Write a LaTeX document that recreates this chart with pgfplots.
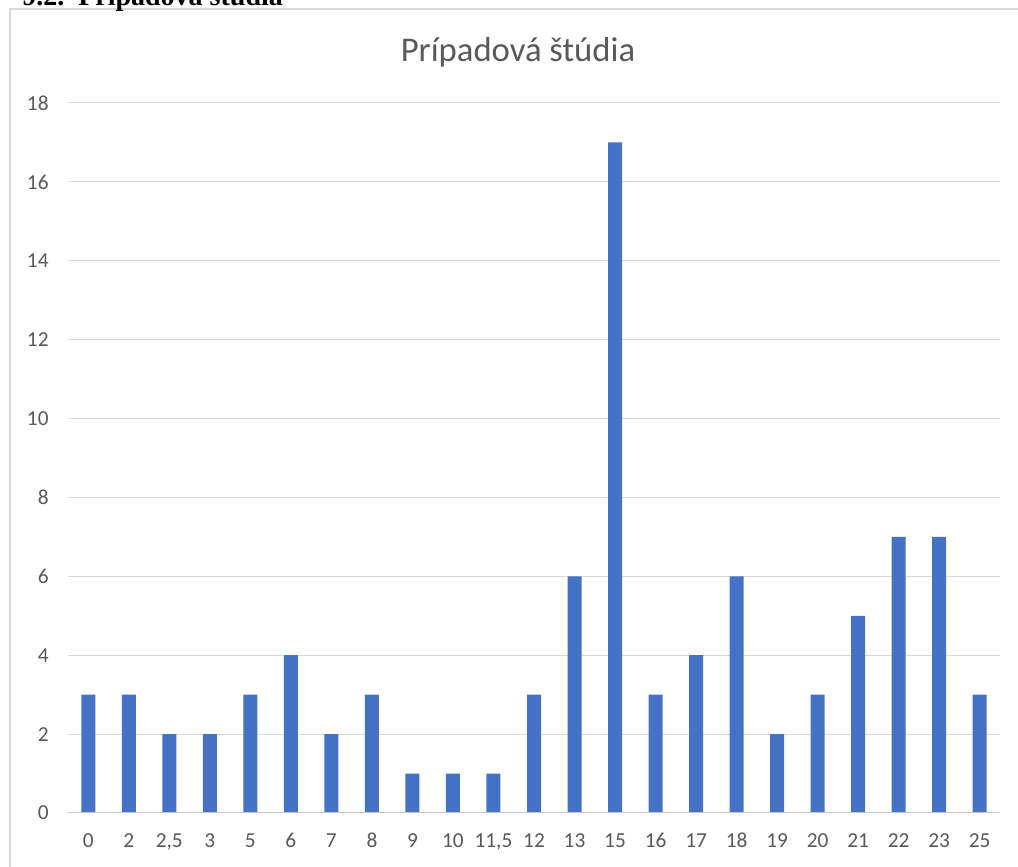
\documentclass[border=0pt]{standalone}
\usepackage{pgfplots}
\pgfplotsset{compat=1.18}
\usepackage{fontspec}
\setmainfont{Carlito}
\newfontfamily\headfont{Liberation Serif}
\definecolor{barblue}{HTML}{4472C4}
\definecolor{txtgray}{HTML}{595959}
\definecolor{gridgray}{HTML}{D9D9D9}
\begin{document}
\begin{tikzpicture}[x=0.75pt,y=0.75pt]
\useasboundingbox (0,0) rectangle (1018,867);
% chart frame
\draw[gridgray,line width=1.5pt] (9.5,-20) -- (9.5,857.5) -- (1040,857.5);
% cut off heading above the chart
\node[anchor=base west,inner sep=0pt,font=\headfont\bfseries\fontsize{21}{23}\selectfont] at (22,861) {9.2.\ \ Prípadová štúdia};
\node[font=\fontsize{26}{30}\selectfont,text=txtgray] at (518,815) {Prípadová štúdia};
\begin{axis}[
    at={(51pt,40.5pt)}, anchor=south west,
    scale only axis,
    width=699pt, height=532.5pt,
    xmin=-0.5, xmax=22.5,
    ymin=0, ymax=18,
    ytick={0,2,...,18},
    xtick={0,...,22},
    xticklabels={0,2,{2,5},3,5,6,7,8,9,10,{11,5},12,13,15,16,17,18,19,20,21,22,23,25},
    axis line style={draw=none},
    axis x line*=bottom,
    axis y line*=left,
    ymajorgrids, grid style={gridgray,line width=0.75pt},
    major tick length=0pt,
    tick label style={font=\fontsize{16}{18}\selectfont,text=txtgray},
    yticklabel style={xshift=-11pt},
    xticklabel style={anchor=base,text height=8pt,text depth=0pt,yshift=-26pt},
    /pgf/number format/assume math mode=true,
    clip=false,
]
\addplot[ybar, bar width=10.5pt, fill=barblue, draw=none] coordinates {
(0,3) (1,3) (2,2) (3,2) (4,3) (5,4) (6,2) (7,3) (8,1) (9,1) (10,1) (11,3)
(12,6) (13,17) (14,3) (15,4) (16,6) (17,2) (18,3) (19,5) (20,7) (21,7) (22,3)
};
\draw[color=gridgray!80!gray,line width=0.75pt] (axis cs:-0.5,0) -- (axis cs:22.5,0);
\end{axis}
\end{tikzpicture}
\end{document}
